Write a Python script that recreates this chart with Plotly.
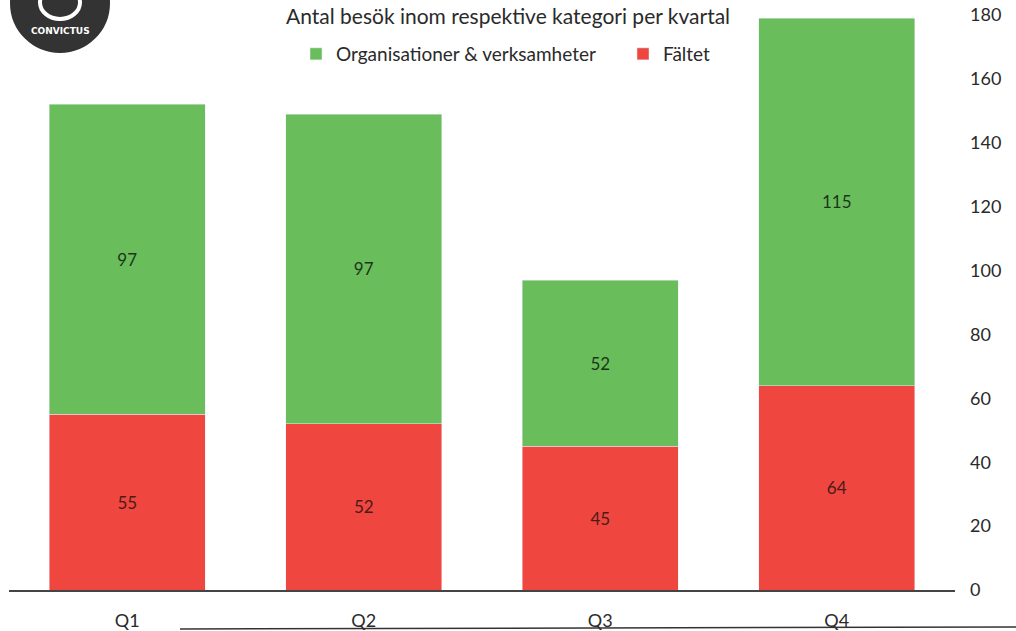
import plotly.graph_objects as go

categories = ["Q1", "Q2", "Q3", "Q4"]
faltet = [55, 52, 45, 64]
organisationer = [97, 97, 52, 115]
y_ticks = [0, 20, 40, 60, 80, 100, 120, 140, 160, 180]

GREEN = "#69be5b"
RED = "#f04640"
FONT = "Lato"

# plot area in pixels: x 9..955, y 15..590 (figure 1016x631)
W, H = 1016, 631
L, R, T, B = 9, 955, 15, 590
def px(x):
    return (x - L) / (R - L)
def py(y):
    return (B - y) / (B - T)

fig = go.Figure()
fig.add_trace(go.Bar(
    x=categories, y=faltet, name="Fältet", marker_color=RED,
    text=faltet, textposition="inside", insidetextanchor="middle",
    textfont=dict(color="#4a1c18", size=17, family=FONT), width=0.66,
))
fig.add_trace(go.Bar(
    x=categories, y=organisationer, name="Organisationer & verksamheter",
    marker_color=GREEN, text=organisationer, textposition="inside",
    insidetextanchor="middle",
    textfont=dict(color="#1d361b", size=17, family=FONT), width=0.66,
))

fig.update_layout(
    barmode="stack",
    width=W, height=H,
    margin=dict(l=L, r=W - R, t=T, b=H - B, autoexpand=False),
    paper_bgcolor="white", plot_bgcolor="white",
    font=dict(family=FONT, size=17, color="#2a2a2a"),
    showlegend=True,
    legend=dict(orientation="h", x=px(296), y=py(54), xanchor="left",
                yanchor="middle", traceorder="reversed",
                entrywidth=282, entrywidthmode="pixels",
                font=dict(size=19, family=FONT, color="#2a2a2a"),
                itemwidth=30, bgcolor="rgba(0,0,0,0)"),
    xaxis=dict(showgrid=False, showline=True, linecolor="#444", linewidth=1.5,
               ticks="", ticklabelstandoff=14, tickfont=dict(size=18),
               range=[-0.5, 3.5], automargin=False),
    yaxis=dict(side="right", range=[0, 180], tickvals=y_ticks,
               showgrid=False, showline=False, zeroline=False,
               ticks="", ticklabelstandoff=14, tickfont=dict(size=18),
               automargin=False),
    bargap=0.34,
)

# title (near the top edge as in the scan)
fig.add_annotation(text="Antal besök inom respektive kategori per kvartal",
                   xref="paper", yref="paper", x=px(508), y=py(15),
                   xanchor="center", yanchor="middle", showarrow=False,
                   font=dict(size=21, family=FONT, color="#2a2a2a"))

# logo
fig.add_shape(type="circle", xref="paper", yref="paper", layer="below",
              x0=px(11), x1=px(109), y0=py(52), y1=py(-46),
              fillcolor="#333333", line=dict(color="#333333"))
fig.add_shape(type="circle", xref="paper", yref="paper", layer="below",
              x0=px(40), x1=px(80), y0=py(19), y1=py(-14),
              fillcolor="rgba(0,0,0,0)", line=dict(color="white", width=4))
fig.add_annotation(text="<b>CONVICTUS</b>", xref="paper", yref="paper",
                   x=px(60), y=py(31), xanchor="center", yanchor="middle",
                   showarrow=False,
                   font=dict(size=9, color="white", family="DejaVu Sans"))

# scan edge line under the category labels
fig.add_shape(type="line", xref="paper", yref="paper",
              x0=px(180), x1=px(1016), y0=py(629), y1=py(627),
              line=dict(color="#333", width=1.5))

fig.write_html("out.html", config={"displayModeBar": False},
               post_script="document.body.style.margin='0';")
